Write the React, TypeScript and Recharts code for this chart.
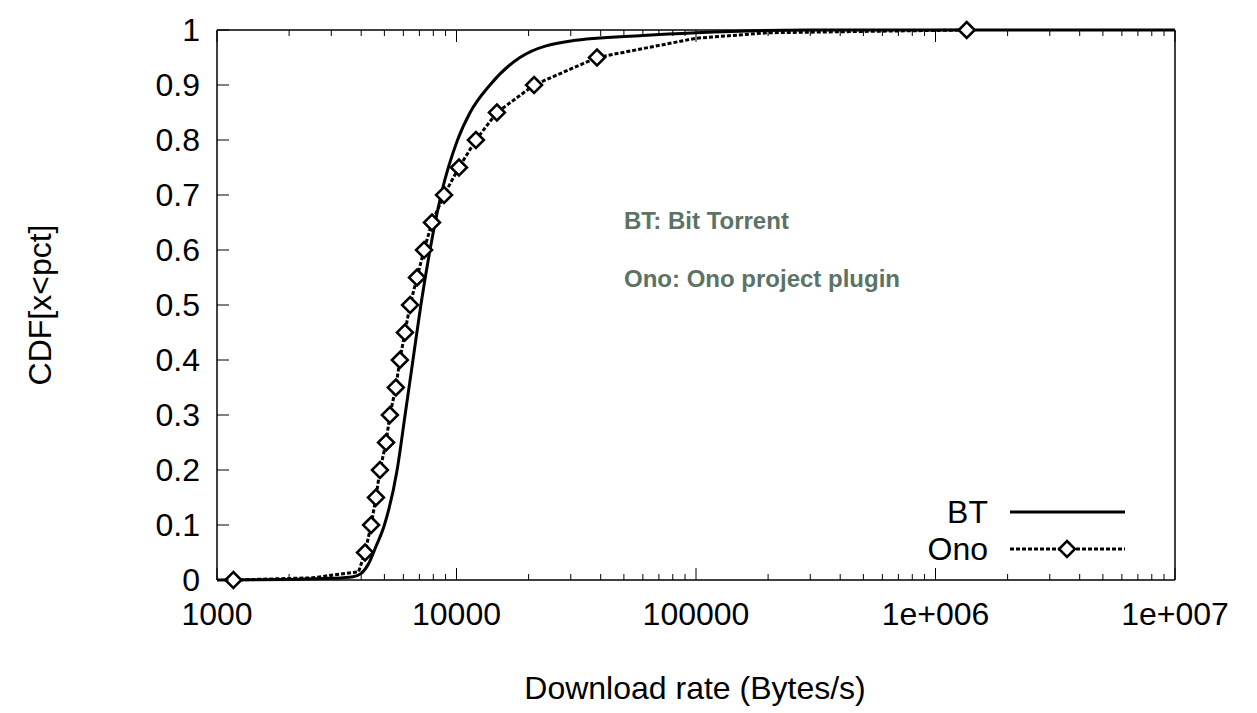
import React from "react";
import { LineChart, Line, XAxis, YAxis } from "recharts";

const btX = [1000, 2000, 3000, 3700, 4000, 4300, 4600, 5000, 5650, 6100, 6580, 7100, 7750, 8620, 10100, 11400, 13800, 18400, 30000, 60000, 100000, 300000, 1000000, 10000000];
const btY = [0, 0.001, 0.003, 0.006, 0.012, 0.03, 0.06, 0.1, 0.2, 0.3, 0.4, 0.5, 0.6, 0.7, 0.8, 0.85, 0.9, 0.95, 0.98, 0.99, 0.995, 1, 1, 1];
const onoX = [1170, 2500, 3900, 4150, 4400, 4610, 4790, 5080, 5270, 5580, 5800, 6090, 6400, 6840, 7320, 7900, 8870, 10240, 12050, 14750, 21080, 38600, 100000, 200000, 1350000];
const onoY = [0, 0.004, 0.015, 0.05, 0.1, 0.15, 0.2, 0.25, 0.3, 0.35, 0.4, 0.45, 0.5, 0.55, 0.6, 0.65, 0.7, 0.75, 0.8, 0.85, 0.9, 0.95, 0.985, 0.995, 1];
const onoMark = [true, false, false, true, true, true, true, true, true, true, true, true, true, true, true, true, true, true, true, true, true, true, false, false, true];
const xMajor = [1000, 10000, 100000, 1000000, 10000000];
const xLabels = ["1000", "10000", "100000", "1e+006", "1e+007"];
const yTicks = [0, 0.1, 0.2, 0.3, 0.4, 0.5, 0.6, 0.7, 0.8, 0.9, 1];
const xAll: number[] = [...xMajor];
for (let d = 1000; d < 1e7; d *= 10) for (let k = 2; k <= 9; k++) xAll.push(d * k);
xAll.sort((a, b) => a - b);

const btData = btX.map((x, i) => ({ x, y: btY[i] }));
const onoData = onoX.map((x, i) => ({ x, y: onoY[i], m: onoMark[i] }));

const font = "'Liberation Sans', Arial, sans-serif";

const Diamond = (p: any) => {
  if (!p.payload || !p.payload.m) return null;
  const { cx, cy } = p;
  const s = 8;
  return <path key={p.index} d={`M${cx},${cy - s}L${cx + s},${cy}L${cx},${cy + s}L${cx - s},${cy}Z`} fill="white" stroke="black" strokeWidth={2.5} />;
};

const XTick = (p: any) => {
  const v = p.payload.value;
  const i = xMajor.indexOf(v);
  const major = i >= 0;
  const len = major ? 12 : 6;
  const top = p.orientation === "top";
  return (
    <g>
      <line x1={p.x} x2={p.x} y1={p.y} y2={top ? p.y + len : p.y - len} stroke="black" strokeWidth={1} />
      {!top && major && (
        <text x={p.x} y={p.y + 45} textAnchor="middle" fontSize={32} fontFamily={font} fill="black">{xLabels[i]}</text>
      )}
    </g>
  );
};

const YTick = (p: any) => {
  const v = p.payload.value;
  const right = p.orientation === "right";
  return (
    <g>
      <line x1={p.x} x2={right ? p.x - 12 : p.x + 12} y1={p.y} y2={p.y} stroke="black" strokeWidth={1} />
      {!right && (
        <text x={p.x - 17} y={p.y + 11} textAnchor="end" fontSize={32} fontFamily={font} fill="black">{String(v)}</text>
      )}
    </g>
  );
};

export default function App() {
  const ax = { stroke: "black", strokeWidth: 1.5 };
  return (
    <div style={{ position: "absolute", left: 0, top: 0, width: 1257, height: 713, background: "white", fontFamily: font }}>
      <LineChart width={1257} height={713} data={btData} margin={{ top: 0, right: 52, bottom: 103, left: 157 }}>
        <XAxis xAxisId="b" dataKey="x" type="number" scale="log" domain={[1000, 10000000]} allowDataOverflow ticks={xAll} height={30} tickSize={0} tickMargin={0} axisLine={ax} tickLine={false} tick={<XTick orientation="bottom" />} interval={0} />
        <XAxis xAxisId="t" orientation="top" dataKey="x" type="number" scale="log" domain={[1000, 10000000]} allowDataOverflow ticks={xAll} height={30} tickSize={0} tickMargin={0} axisLine={ax} tickLine={false} tick={<XTick orientation="top" />} interval={0} />
        <YAxis yAxisId="l" type="number" domain={[0, 1]} ticks={yTicks} width={60} tickSize={0} tickMargin={0} axisLine={ax} tickLine={false} tick={<YTick orientation="left" />} interval={0} />
        <YAxis yAxisId="r" orientation="right" type="number" domain={[0, 1]} ticks={yTicks} width={30} tickSize={0} tickMargin={0} axisLine={ax} tickLine={false} tick={<YTick orientation="right" />} interval={0} />
        <Line xAxisId="b" yAxisId="l" data={btData} dataKey="y" type="monotone" stroke="black" strokeWidth={3} dot={false} isAnimationActive={false} />
        <Line xAxisId="b" yAxisId="l" data={onoData} dataKey="y" type="linear" stroke="black" strokeWidth={3} strokeDasharray="4 2" dot={<Diamond />} isAnimationActive={false} />
      </LineChart>
      <div style={{ position: "absolute", left: 40, top: 305, transform: "translate(-50%,-50%) rotate(-90deg)", fontSize: 32, whiteSpace: "nowrap" }}>CDF[x&lt;pct]</div>
      <div style={{ position: "absolute", left: 695, top: 688, transform: "translate(-50%,-50%)", fontSize: 32, whiteSpace: "nowrap" }}>Download rate (Bytes/s)</div>
      <div style={{ position: "absolute", left: 624, top: 221, transform: "translateY(-50%)", fontSize: 24, fontWeight: "bold", color: "#5b7365", whiteSpace: "nowrap" }}>BT: Bit Torrent</div>
      <div style={{ position: "absolute", left: 624, top: 279, transform: "translateY(-50%)", fontSize: 24, fontWeight: "bold", color: "#5b7365", whiteSpace: "nowrap" }}>Ono: Ono project plugin</div>
      <div style={{ position: "absolute", right: 1257 - 988, top: 512, transform: "translateY(-50%)", fontSize: 32 }}>BT</div>
      <div style={{ position: "absolute", right: 1257 - 988, top: 549, transform: "translateY(-50%)", fontSize: 32 }}>Ono</div>
      <svg style={{ position: "absolute", left: 0, top: 0, pointerEvents: "none" }} width={1257} height={713}>
        <line x1={1010} x2={1125} y1={512} y2={512} stroke="black" strokeWidth={3} />
        <line x1={1010} x2={1125} y1={549} y2={549} stroke="black" strokeWidth={3} strokeDasharray="4 2" />
        <path d="M1067,541L1075,549L1067,557L1059,549Z" fill="white" stroke="black" strokeWidth={2.5} />
      </svg>
    </div>
  );
}
